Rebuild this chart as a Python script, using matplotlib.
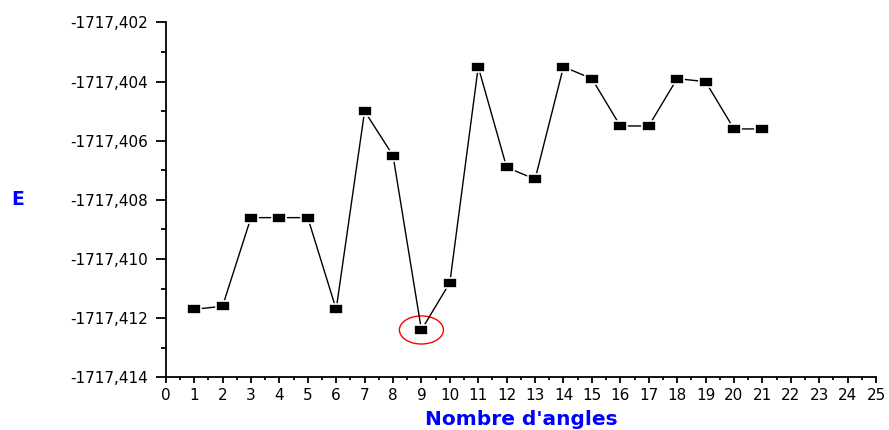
import matplotlib
matplotlib.use("Agg")
import matplotlib.pyplot as plt
from matplotlib.ticker import MultipleLocator, FuncFormatter
from matplotlib.patches import Ellipse

plt.rcParams['font.family'] = ['DejaVu Sans']

angles = list(range(1, 22))
energies = [-1717.4117, -1717.4116, -1717.4086, -1717.4086, -1717.4086,
            -1717.4117, -1717.4050, -1717.4065, -1717.4124, -1717.4108,
            -1717.4035, -1717.4069, -1717.4073, -1717.4035, -1717.4039,
            -1717.4055, -1717.4055, -1717.4039, -1717.4040, -1717.4056,
            -1717.4056]
highlight_index = 8  # point 9

fig = plt.figure(figsize=(8.89, 4.30), dpi=100)
ax = fig.add_axes([0.1864, 0.1226, 0.7990, 0.8251])

rect = [(-1, -0.7), (1, -0.7), (1, 0.7), (-1, 0.7), (-1, -0.7)]
ax.plot(angles, energies, color='black', linewidth=1.0,
        marker=rect, markersize=9.5, markerfacecolor='black',
        markeredgecolor='white', markeredgewidth=1.2)

hx, hy = angles[highlight_index], energies[highlight_index]
ax.add_patch(Ellipse((hx, hy), width=1.55, height=0.00095,
                     fill=False, edgecolor='red', linewidth=1.0))

ax.set_xlim(0, 25)
ax.set_ylim(-1717.414, -1717.402)
ax.xaxis.set_major_locator(MultipleLocator(1))
ax.xaxis.set_minor_locator(MultipleLocator(0.5))
ax.yaxis.set_major_locator(MultipleLocator(0.002))
ax.yaxis.set_minor_locator(MultipleLocator(0.001))
ax.yaxis.set_major_formatter(FuncFormatter(lambda v, p: f"{v:.3f}".replace('.', ',')))

for s in ['top', 'right']:
    ax.spines[s].set_visible(False)
for s in ['left', 'bottom']:
    ax.spines[s].set_linewidth(1.3)

ax.tick_params(which='both', direction='out', width=1.3, labelsize=11)
ax.tick_params(axis='y', which='major', length=7.5, pad=5)
ax.tick_params(axis='y', which='minor', length=3.75)
ax.tick_params(axis='x', which='major', length=4.5, pad=3)
ax.tick_params(axis='x', which='minor', length=2.5)

ax.set_xlabel("Nombre d'angles", color='blue', fontweight='bold', fontsize=14.5, labelpad=5)
ax.set_ylabel("E", color='blue', fontweight='bold', fontsize=13.5, rotation=0,
              va='center', ha='center')
ax.yaxis.set_label_coords(-0.208, 0.50)

fig.savefig("out.png", dpi=100)
